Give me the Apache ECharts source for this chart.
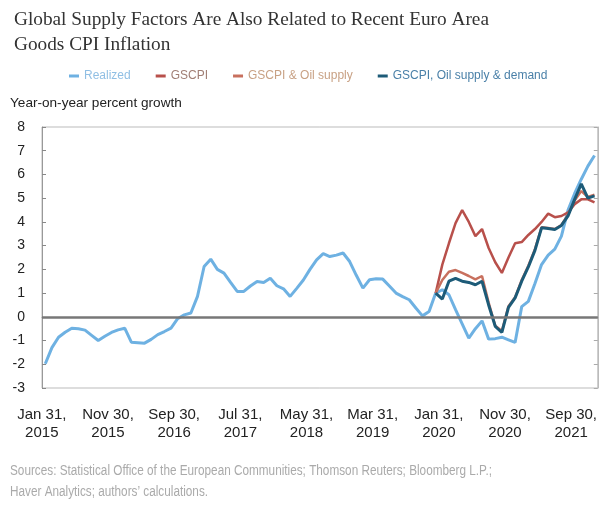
<!DOCTYPE html>
<html>
<head>
<meta charset="utf-8">
<script src="https://cdn.jsdelivr.net/npm/echarts@6/dist/echarts.min.js"></script>
<style>
html,body{margin:0;padding:0;background:#fff;}
#chart{width:607px;height:511px;}
</style>
</head>
<body>
<div id="chart"></div>
<script>
// Monthly categories Jan 2015 .. Dec 2021 (month-end dates)
const monthNames = ['Jan','Feb','Mar','Apr','May','Jun','Jul','Aug','Sep','Oct','Nov','Dec'];
const monthEnds = [31,28,31,30,31,30,31,31,30,31,30,31];
const years = [2015,2016,2017,2018,2019,2020,2021];
const categories = [];
years.forEach(y => monthNames.forEach((m, i) => {
  let d = monthEnds[i];
  if (i === 1 && y % 4 === 0) d = 29;
  categories.push(m + ' ' + d + ', ' + y);
}));

// Realized euro area goods CPI inflation (Jan 2015 .. Dec 2021)
const realized = [
  -1.98,-1.30,-0.86,-0.65,-0.48,-0.50,-0.56,-0.78,-1.00,-0.82,-0.66,-0.55,
  -0.48,-1.07,-1.09,-1.11,-0.95,-0.75,-0.62,-0.48,-0.08,0.08,0.16,0.86,
  2.12,2.43,2.00,1.84,1.45,1.07,1.07,1.30,1.49,1.45,1.63,1.31,
  1.18,0.86,1.20,1.55,2.00,2.40,2.66,2.54,2.60,2.69,2.33,1.75,
  1.21,1.56,1.60,1.59,1.30,1.00,0.85,0.72,0.37,0.04,0.22,1.00,
  1.14,0.93,0.30,-0.30,-0.90,-0.50,-0.17,-0.94,-0.92,-0.86,-0.97,-1.08,
  0.43,0.65,1.40,2.20,2.60,2.85,3.40,4.50,5.20,5.80,6.35,6.80
];

// Model series start Dec 2019
const modelStart = 'Dec 31, 2019';
const gscpi = [
  1.00,2.20,3.10,3.95,4.50,4.00,3.40,3.70,2.90,2.30,1.85,2.50,
  3.10,3.15,3.45,3.70,4.00,4.35,4.20,4.25,4.40,4.75,4.95,4.95,4.82
];
const gscpiOil = [
  1.00,1.55,1.90,1.97,1.85,1.72,1.58,1.72,0.60,-0.38,-0.60,0.45,
  0.82,1.55,2.15,2.85,3.78,3.74,3.70,3.87,4.30,4.90,5.30,5.05,5.15
];
const gscpiOilDemand = [
  1.00,0.75,1.50,1.62,1.50,1.45,1.35,1.50,0.50,-0.40,-0.66,0.40,
  0.80,1.50,2.10,2.80,3.75,3.72,3.68,3.85,4.25,4.95,5.60,5.00,5.10
];

const yTicks = [-3,-2,-1,0,1,2,3,4,5,6,7,8];

function pad(arr) {
  const s = categories.indexOf(modelStart);
  const out = new Array(categories.length).fill(null);
  arr.forEach((v, i) => { out[s + i] = v; });
  return out;
}

const C_REAL = '#6eb1e2';
const C_G = '#b8504b';
const C_GO = '#c8705e';
const C_GOD = '#1d5b78';

const chart = echarts.init(document.getElementById('chart'), null, {renderer: 'canvas'});
const sans = 'Liberation Sans, Arial, sans-serif';
chart.setOption({
  animation: false,
  backgroundColor: '#fff',
  title: [{
    text: 'Global Supply Factors Are Also Related to Recent Euro Area\nGoods CPI Inflation',
    left: 9, top: 2,
    textStyle: {fontFamily: 'Liberation Serif, serif', fontSize: 19.3, fontWeight: 'normal', color: '#333', lineHeight: 25}
  }],
  legend: {
    left: 64, top: 65,
    icon: 'rect', itemWidth: 10, itemHeight: 3, itemGap: 25,
    textStyle: {fontFamily: sans, fontSize: 12},
    data: [
      {name: 'Realized', textStyle: {color: '#90bfe4'}},
      {name: 'GSCPI', textStyle: {color: '#a07e74'}},
      {name: 'GSCPI & Oil supply', textStyle: {color: '#c8a184'}},
      {name: 'GSCPI, Oil supply & demand', textStyle: {color: '#4a80a8'}}
    ]
  },
  graphic: [{
    type: 'text', left: 10, top: 96,
    style: {text: 'Year-on-year percent growth', font: '13.6px Liberation Sans, Arial, sans-serif', fill: '#222'}
  }, {
    type: 'text', x: 10, y: 461, scaleX: 0.84, scaleY: 1, originX: 0, originY: 0,
    style: {
      text: 'Sources: Statistical Office of the European Communities; Thomson Reuters; Bloomberg L.P.;\nHaver Analytics; authors\u2019 calculations.',
      font: '14px Liberation Sans, Arial, sans-serif', fill: '#aaaaaa', lineHeight: 21
    }
  }],
  grid: {left: 42, right: 8, top: 127, bottom: 123, show: true, borderColor: '#bbbbbb', borderWidth: 1},
  xAxis: {
    type: 'category', data: categories, boundaryGap: true,
    axisLine: {lineStyle: {color: '#999', width: 1}},
    axisTick: {inside: true, length: 4, interval: (i) => i % 10 === 0, lineStyle: {color: '#888'}},
    axisLabel: {
      interval: (i) => i % 10 === 0,
      formatter: (v) => v.replace(', ', ',\n'),
      fontFamily: sans, fontSize: 15, color: '#222', lineHeight: 18, margin: 18,
      padding: [0, 7, 0, 0]
    },
    splitLine: {show: false}
  },
  yAxis: [{
    type: 'value', min: yTicks[0], max: yTicks[yTicks.length - 1], interval: 1,
    axisLine: {show: true, lineStyle: {color: '#999'}},
    axisTick: {show: true, inside: true, length: 4, lineStyle: {color: '#888'}},
    axisLabel: {fontFamily: sans, fontSize: 14, color: '#222', margin: 17},
    splitLine: {show: false}
  }, {
    type: 'value', min: yTicks[0], max: yTicks[yTicks.length - 1], interval: 1, position: 'right',
    axisLine: {show: true, lineStyle: {color: '#bbb'}},
    axisTick: {show: true, inside: true, length: 4, lineStyle: {color: '#aaa'}},
    axisLabel: {show: false},
    splitLine: {show: false}
  }],
  series: [{
    name: 'Realized', type: 'line', data: realized, symbol: 'none',
    lineStyle: {color: C_REAL, width: 3}, itemStyle: {color: C_REAL},
    markLine: {
      silent: true, symbol: 'none', label: {show: false},
      lineStyle: {color: '#777', width: 2.5, type: 'solid'},
      data: [{yAxis: 0}]
    }
  }, {
    name: 'GSCPI', type: 'line', data: pad(gscpi), symbol: 'none',
    lineStyle: {color: C_G, width: 2.5}, itemStyle: {color: C_G}
  }, {
    name: 'GSCPI & Oil supply', type: 'line', data: pad(gscpiOil), symbol: 'none',
    lineStyle: {color: C_GO, width: 2.5}, itemStyle: {color: C_GO}
  }, {
    name: 'GSCPI, Oil supply & demand', type: 'line', data: pad(gscpiOilDemand), symbol: 'none',
    lineStyle: {color: C_GOD, width: 3}, itemStyle: {color: C_GOD}
  }]
});
</script>
</body>
</html>
